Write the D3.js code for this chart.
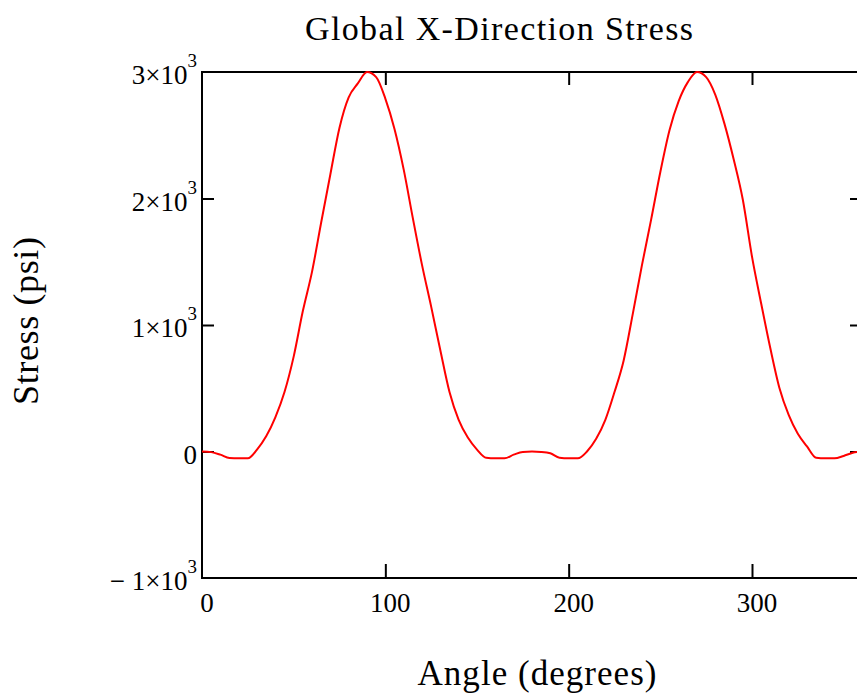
<!DOCTYPE html>
<html lang="en">

<head>
  <meta charset="UTF-8">
  <title>Global X-Direction Stress</title>
  <script src="https://d3js.org/d3.v7.min.js"></script>
  <style>
    body { margin: 0; background: #fff; }
    text { font-family: "Liberation Serif", "Times New Roman", serif; fill: #000; }
  </style>
</head>

<body>
  <div id="root"></div>
  <script>
    // angle (degrees) and global x stress (psi)
    const angles = [0, 5, 10, 15, 20, 25, 30, 35, 40, 45, 50, 55, 60, 65, 70, 75, 80, 85, 90,
      95, 100, 105, 110, 115, 120, 125, 130, 135, 140, 145, 150, 155, 160, 165, 170, 175, 180,
      185, 190, 195, 200, 205, 210, 215, 220, 225, 230, 235, 240, 245, 250, 255, 260, 265, 270,
      275, 280, 285, 290, 295, 300, 305, 310, 315, 320, 325, 330, 335, 340, 345, 350, 355, 360];
    const stress = [0, -5, -25, -52, -54, -54, 15, 120, 270, 470, 750, 1110, 1420, 1810, 2190, 2560, 2800, 2910, 3000,
      2960, 2790, 2550, 2230, 1845, 1475, 1145, 800, 470, 250, 110, 15, -50, -54, -54, -25, -3, 0,
      -3, -14, -50, -54, -54, 0, 100, 250, 470, 720, 1090, 1475, 1835, 2210, 2540, 2770, 2920, 3000,
      2960, 2820, 2590, 2310, 1990, 1540, 1170, 816, 500, 289, 140, 40, -50, -54, -54, -35, -10, 0];

    const xTicks = [0, 100, 200, 300];
    const yTicks = [-1000, 0, 1000, 2000, 3000];
    const yTickLabels = [['\u2212 1\u00d710', '3'], ['0', ''], ['1\u00d710', '3'], ['2\u00d710', '3'], ['3\u00d710', '3']];

    const W = 857, H = 698;
    const plotL = 202, plotR = 862, plotT = 72, plotB = 578;

    const svg = d3.select('#root').append('svg').attr('width', W).attr('height', H);

    const x = d3.scaleLinear().domain([0, 360]).range([plotL, plotR]);
    const y = d3.scaleLinear().domain([-1000, 3000]).range([plotB, plotT]);

    // tick marks, all pointing inward
    const axes = [
      [d3.axisBottom(x).tickValues(xTicks.slice(1)).tickSize(-14), `translate(0,${plotB})`],
      [d3.axisTop(x).tickValues(xTicks.slice(1)).tickSize(-13), `translate(0,${plotT})`],
      [d3.axisLeft(y).tickValues(yTicks.slice(1, -1)).tickSize(-12), `translate(${plotL},0)`],
      [d3.axisRight(y).tickValues(yTicks.slice(1, -1)).tickSize(-12), `translate(${plotR},0)`]
    ];
    axes.forEach(([ax, tr]) => {
      const g = svg.append('g').attr('transform', tr).call(ax.tickFormat(''));
      g.select('.domain').remove();
      g.selectAll('line').attr('stroke', '#000').attr('stroke-width', 2);
    });

    // frame
    svg.append('rect')
      .attr('x', plotL).attr('y', plotT)
      .attr('width', plotR - plotL).attr('height', plotB - plotT)
      .attr('fill', 'none').attr('stroke', '#000').attr('stroke-width', 2);

    // stress curve
    const line = d3.line()
      .x((d, i) => x(angles[i]))
      .y(d => y(d))
      .curve(d3.curveMonotoneX);
    svg.append('path')
      .datum(stress)
      .attr('d', line)
      .attr('fill', 'none')
      .attr('stroke', '#ff0000')
      .attr('stroke-width', 2);

    // x tick labels
    svg.selectAll('.xlab').data(xTicks).enter()
      .append('text')
      .attr('x', d => x(d) + 5)
      .attr('y', plotB + 34)
      .attr('text-anchor', 'middle')
      .attr('font-size', 27)
      .text(d => d);

    // y tick labels with superscript exponent
    const ylab = svg.selectAll('.ylab').data(yTicks).enter()
      .append('text')
      .attr('x', 197)
      .attr('y', d => y(d) + 12)
      .attr('text-anchor', 'end')
      .attr('font-size', 27);
    ylab.append('tspan').text((d, i) => yTickLabels[i][0]);
    ylab.append('tspan')
      .attr('font-size', 19)
      .attr('dy', -17)
      .text((d, i) => yTickLabels[i][1]);

    // titles
    svg.append('text')
      .attr('x', 499).attr('y', 40)
      .attr('text-anchor', 'middle')
      .attr('font-size', 34)
      .attr('textLength', 388)
      .text('Global X-Direction Stress');

    svg.append('text')
      .attr('x', 537).attr('y', 685)
      .attr('text-anchor', 'middle')
      .attr('font-size', 35)
      .attr('textLength', 239)
      .text('Angle (degrees)');

    svg.append('text')
      .attr('transform', 'translate(38,321) rotate(-90)')
      .attr('text-anchor', 'middle')
      .attr('font-size', 36)
      .attr('textLength', 168)
      .text('Stress (psi)');
  </script>
</body>

</html>
